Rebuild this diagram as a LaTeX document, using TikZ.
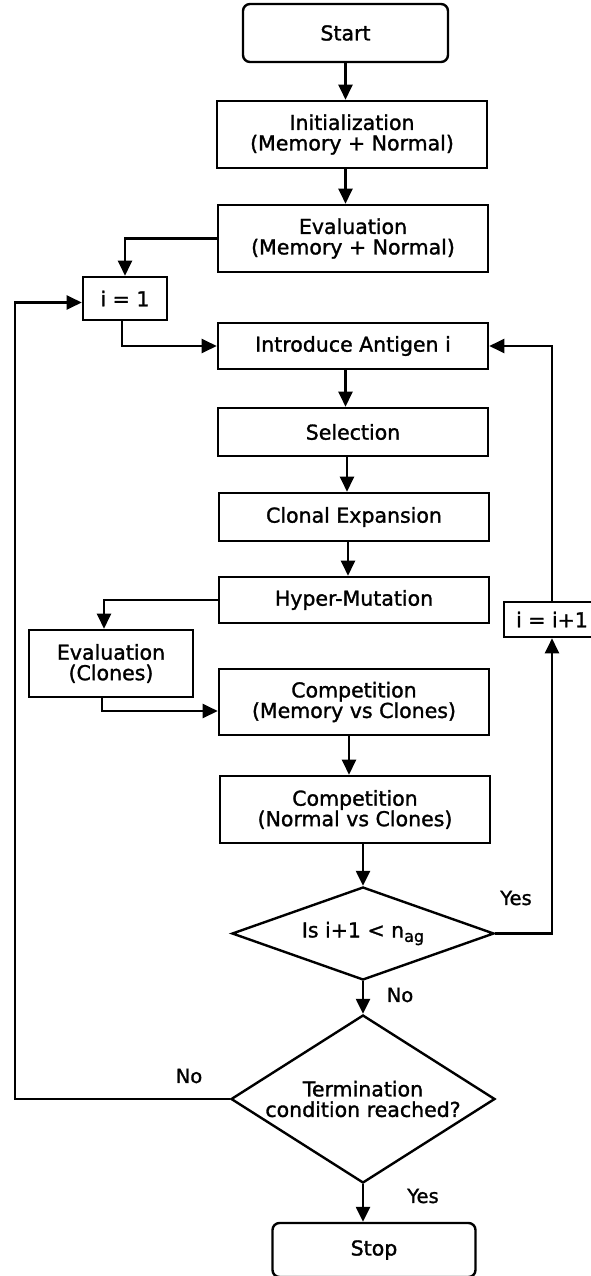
\documentclass[tikz,border=0pt]{standalone}
\usepackage{fontspec}
\setmainfont{DejaVu Sans}
\newfontfamily\medfont{DejaVu Sans}[FakeBold=1.4]
\usetikzlibrary{shapes.geometric,arrows.meta}
\begin{document}
\begin{tikzpicture}[x=1pt,y=-1pt,
  txt/.style={font=\medfont\fontsize{20.5}{20.5}\selectfont},
  box/.style={draw,txt,line width=2.6pt,minimum width=270pt,inner sep=0pt,align=center},
  smallbox/.style={box,minimum width=0pt},
  term/.style={draw,txt,line width=2.4pt,rounded corners=7pt,inner sep=0pt},
  dec/.style={draw,txt,diamond,line width=2.4pt,inner sep=0pt,align=center},
  conn/.style={line width=2.4pt},
  arr/.style={conn,-{Triangle[length=15pt,width=14pt]}},
  lbl/.style={font=\medfont\fontsize{19.5}{20}\selectfont}]
\useasboundingbox (0,0) rectangle (590,1276);

\node[term,minimum width=205pt,minimum height=58pt] (start) at (345.5,33) {Start};
\node[box,minimum height=67pt] (init) at (352,134.5) {Initialization\\(Memory + Normal)};
\node[box,minimum height=67pt] (eval) at (353,238.5) {Evaluation\\(Memory + Normal)};
\node[smallbox,minimum width=84pt,minimum height=43pt] (i1) at (125,298.5) {i = 1};
\node[box,minimum height=46pt] (intro) at (353,346) {Introduce Antigen i};
\node[box,minimum height=48pt] (sel) at (353,432) {Selection};
\node[box,minimum height=48pt] (clon) at (354,517) {Clonal Expansion};
\node[box,minimum height=46pt] (hyper) at (354,600) {Hyper-Mutation};
\node[smallbox,minimum width=164pt,minimum height=67pt] (evc) at (111,663.5) {Evaluation\\(Clones)};
\node[box,minimum height=66pt] (comp1) at (354,702) {Competition\\(Memory vs Clones)};
\node[box,minimum height=67pt] (comp2) at (355,809.5) {Competition\\(Normal vs Clones)};
\node[smallbox,minimum width=96pt,minimum height=35pt] (ii) at (552,619.5) {i = i+1};
\node[dec,aspect=2.8,minimum width=262pt,minimum height=93pt] (d1) at (363,933.5) {Is i+1 < n\raisebox{-0.4ex}{\fontsize{16}{16}\selectfont ag}};
\node[dec,aspect=1.57,minimum width=264pt,minimum height=168pt] (d2) at (363,1099) {Termination\\condition reached?};
\node[term,minimum width=203pt,minimum height=54pt] (stop) at (374,1250) {Stop};

\coordinate (lx) at (15,0);

\draw[arr] (start.south) -- (start.south |- init.north);
\draw[arr] (init.south -| start) -- (eval.north -| start);
\draw[arr] (eval.west) -| (i1.north);
\draw[arr] ([xshift=-3pt]i1.south) |- (intro.west);
\draw[arr] (intro.south -| start) -- (sel.north -| start);
\draw[arr] ([xshift=-6pt]sel.south) -- ([xshift=-6pt]sel.south |- clon.north);
\draw[arr] ([xshift=-6pt]clon.south) -- ([xshift=-6pt]clon.south |- hyper.north);
\draw[arr] (hyper.west) -| ([xshift=-7pt]evc.north);
\draw[arr] ([xshift=-9pt]evc.south) |- ([yshift=-9pt]comp1.west);
\draw[arr] ([xshift=-5pt]comp1.south) -- ([xshift=-5pt]comp1.south |- comp2.north);
\draw[arr] (d1.north |- comp2.south) -- (d1.north);
\draw[arr] (d1.south) -- (d2.north);
\draw[arr] (d2.south) -- (d2.south |- stop.north);
\draw[arr] (d1.east) -| (ii.south);
\draw[arr] (ii.north) |- (intro.east);
\draw[arr] (d2.west) -- (d2.west -| lx) |- ([yshift=-4pt]i1.west);

\node[lbl] (yes1) at (516,898) {Yes};
\node[lbl] (no1) at (400,995) {No};
\node[lbl] (no2) at (189,1076) {No};
\node[lbl] (yes2) at (423,1196) {Yes};
\end{tikzpicture}
\end{document}
